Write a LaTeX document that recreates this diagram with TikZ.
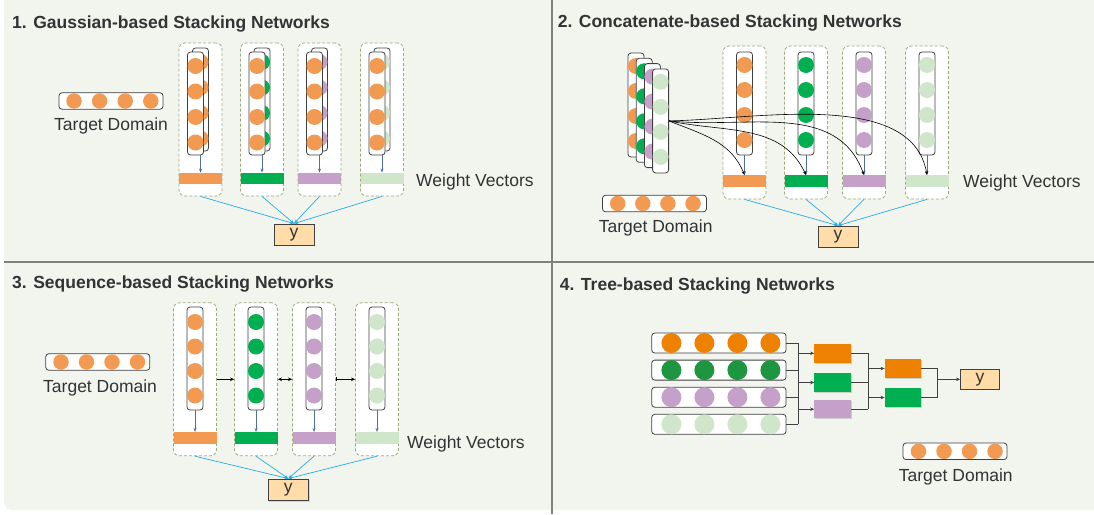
\documentclass[tikz,border=0pt]{standalone}
\usepackage{fontspec}
\setmainfont{Liberation Sans}
\usetikzlibrary{arrows.meta,shadows}
\definecolor{bgc}{HTML}{F2F4EE}
\definecolor{corg}{HTML}{F29A52}
\definecolor{cgrn}{HTML}{00B050}
\definecolor{cpur}{HTML}{C5A1C9}
\definecolor{clgr}{HTML}{CFE6CB}
\definecolor{torg}{HTML}{EE8100}
\definecolor{tgrn}{HTML}{1E9640}
\definecolor{ybg}{HTML}{FFDCA8}
\definecolor{blu}{HTML}{29ABE2}
\definecolor{stl}{HTML}{4F6FA0}
\definecolor{dashc}{HTML}{9CAA7A}
\definecolor{divc}{HTML}{808080}
\definecolor{txtc}{HTML}{333333}
\definecolor{edgec}{HTML}{404040}
\begin{document}
\begin{tikzpicture}[x=1pt,y=-1pt,
  ttl/.style={font=\fontsize{17.5}{21}\selectfont\bfseries, text=txtc, anchor=base west, inner sep=0},
  lbl/.style={font=\fontsize{17.5}{21}\selectfont, text=txtc, anchor=base west, inner sep=0},
  dbox/.style={draw=dashc, dash pattern=on 3pt off 2pt, rounded corners=6, fill=white, line width=0.8, minimum width=43, minimum height=153, inner sep=0},
  colbox/.style={draw=edgec, rounded corners=3, fill=white, line width=0.8, minimum width=16, minimum height=103, inner sep=0},
  dot/.style={circle, draw=none, minimum size=15.5, inner sep=0},
  wbar/.style={draw=none, minimum width=43, minimum height=11.5, inner sep=0},
  ybox/.style={draw=edgec, fill=ybg, line width=0.8, inner sep=0, font=\fontsize{17.5}{21}\selectfont, text=txtc, drop shadow={shadow xshift=1pt, shadow yshift=-1pt, opacity=0.25}},
  tdbox/.style={draw=edgec, rounded corners=3, fill=white, line width=0.8, minimum width=104, minimum height=16.5, inner sep=0},
  smarr/.style={stl, line width=0.6, -{Stealth[length=4pt,width=3pt]}},
  bline/.style={blu, line width=0.7, -{Stealth[length=4pt,width=3pt]}},
  carr/.style={black, line width=0.6, -{Stealth[length=4pt,width=3pt]}},
  darr/.style={black, line width=0.7},
  rowbox/.style={draw=edgec, rounded corners=3, fill=white, line width=0.8, minimum width=134.3, minimum height=20, inner sep=0},
  tdot/.style={circle, draw=none, minimum size=20, inner sep=0},
  tbox/.style={draw=none, minimum width=36.8, minimum height=18.5, inner sep=0, drop shadow={shadow xshift=1pt, shadow yshift=-1pt, opacity=0.3}},
  tline/.style={edgec, line width=0.8},
  tarr/.style={edgec, line width=0.8, -{Stealth[length=4pt,width=3.5pt]}}
]
\useasboundingbox (0,0) rectangle (1094,514);
\fill[white] (0,0) rectangle (1094,514);
\fill[bgc, rounded corners=8] (4,-10) rectangle (1110,510);
\draw[divc, line width=1.5] (552,0) -- (552,514);
\draw[divc, line width=1.5] (4,262) -- (1094,262);

% ---------------- Panel 1 ----------------
\node[ttl] (t1) at (12,28.3) {1. Gaussian-based Stacking Networks};
\node[tdbox] (td1) at (111,101) {};
\foreach \m in {0,...,3} \node[dot] (td1-\m) [fill=corg] at (74+25.6*\m,101) {};
\node[lbl] (tdl1) at (54,130) {Target Domain};
\node[ybox, minimum width=40, minimum height=21] (y1) at (294,234.5) {y};
\foreach \i/\cx/\cc in {1/200.5/corg, 2/262/cgrn, 3/319.5/cpur, 4/382/clgr} {
  \node[dbox] (g\i) at (\cx,119.5) {};
  \node[colbox] (gb\i) at (\cx,99.5) {};
  \foreach \k in {0,...,3} \node[dot, minimum size=16, fill=\cc] (gb\i-\k) at (\cx,62+25.5*\k) {};
  \node[colbox] (gf\i) at (\cx-5,103.5) {};
  \foreach \k in {0,...,3} \node[dot, minimum size=16, fill=corg] (gf\i-\k) at (\cx-5,66+25.5*\k) {};
  \node[wbar, fill=\cc] (gw\i) at (\cx,178.5) {};
  \draw[smarr] (gf\i.south -| gw\i.north) -- (gw\i.north);
  \draw[bline] (g\i.south) -- (y1.north);
}
\node[lbl] (wv1) at (416,186) {Weight Vectors};

% ---------------- Panel 2 ----------------
\node[ttl] (t2) at (557.6,27.3) {2. Concatenate-based Stacking Networks};
\foreach \j/\cc in {0/corg,1/cgrn,2/cpur,3/clgr} {
  \node[colbox, minimum height=104] (cc\j) at (636+8.2*\j,105+5.3*\j) {};
  \foreach \k in {0,...,3} \node[dot, minimum size=16, fill=\cc] (cc\j-\k) at (636+8.2*\j,66+5.3*\j+25*\k) {};
}
\node[tdbox] (td2) at (654.5,203.5) {};
\foreach \m in {0,...,3} \node[dot] (td2-\m) [fill=corg] at (617.7+25.1*\m,203.5) {};
\node[lbl] (tdl2) at (598.6,232) {Target Domain};
\node[ybox, minimum width=40, minimum height=21] (y2) at (838,236.5) {y};
\foreach \i/\cx/\cc in {1/744.5/corg, 2/806/cgrn, 3/864/cpur, 4/927/clgr} {
  \node[dbox] (c\i) at (\cx,122.5) {};
  \node[colbox] (cf\i) at (\cx,103.5) {};
  \foreach \k in {0,...,3} \node[dot, minimum size=16, fill=\cc] (cf\i-\k) at (\cx,65+25*\k) {};
  \node[wbar, fill=\cc] (cw\i) at (\cx,181) {};
  \draw[smarr] (cf\i.south) -- (cw\i.north);
  \draw[bline] (c\i.south) -- (y2.north);
}
\draw[carr] (cc3.east) to[out=-22,in=112] (cw1.north);
\draw[carr] (cc3.east) to[out=-12,in=115] (cw2.north);
\draw[carr] (cc3.east) to[out=-6,in=110] (cw3.north);
\draw[carr] (cc3.east) to[out=1,in=100,looseness=0.85] (cw4.north);
\node[lbl] (wv2) at (963,187.3) {Weight Vectors};

% ---------------- Panel 3 ----------------
\node[ttl] (t3) at (12,288.3) {3. Sequence-based Stacking Networks};
\node[tdbox] (td3) at (97.8,362) {};
\foreach \m in {0,...,3} \node[dot] (td3-\m) [fill=corg] at (61+25.5*\m,362) {};
\node[lbl] (tdl3) at (43,392.7) {Target Domain};
\node[ybox, minimum width=40.7, minimum height=21.7] (y3) at (288.3,489.8) {y};
\foreach \i/\cx/\cc in {1/195/corg, 2/256/cgrn, 3/314/cpur, 4/377/clgr} {
  \node[dbox] (s\i) at (\cx,379.3) {};
  \node[colbox] (sf\i) at (\cx,358.5) {};
  \foreach \k in {0,...,3} \node[dot, minimum size=16, fill=\cc] (sf\i-\k) at (\cx,322+24.5*\k) {};
  \node[wbar, fill=\cc, minimum height=11.7] (sw\i) at (\cx,438) {};
  \draw[smarr] (sf\i.south) -- (sw\i.north);
  \draw[bline] (s\i.south) -- (y3.north);
}
\draw[darr, -{Stealth[length=4pt,width=3.5pt]}] (s1.east) -- (s2.west);
\draw[darr, {Stealth[length=4pt,width=3.5pt]}-{Stealth[length=4pt,width=3.5pt]}] (s2.east) -- (s3.west);
\draw[darr, {Bar[width=4pt]}-{Stealth[length=4pt,width=3.5pt]}] (s3.east) -- (s4.west);
\node[lbl] (wv3) at (407,448.3) {Weight Vectors};

% ---------------- Panel 4 ----------------
\node[ttl] (t4) at (559.7,290.7) {4. Tree-based Stacking Networks};
\foreach \k/\cc in {0/torg,1/tgrn,2/cpur,3/clgr} {
  \node[rowbox] (r\k) at (718.9,343+27.1*\k) {};
  \foreach \m in {0,...,3} \node[tdot, fill=\cc] (r\k-\m) at (671.4+33*\m,343+27.1*\k) {};
  \coordinate (rb\k) at (798,343+27.1*\k);
  \draw[tline] (r\k.east) -- (rb\k);
}
\draw[tline] (rb0) -- (rb3);
\node[tbox, fill=torg] (l1) at (832.8,353.3) {};
\node[tbox, fill=cgrn] (l2) at (832.8,382.5) {};
\node[tbox, fill=cpur] (l3) at (832.8,409.2) {};
\foreach \i in {1,2,3} \draw[tarr] (rb0 |- l\i.west) -- (l\i.west);
\coordinate (lb1) at (868.2,353.3);
\coordinate (lb3) at (868.2,409.2);
\foreach \i in {1,2,3} \draw[tline] (l\i.east) -- (lb1 |- l\i.east);
\draw[tline] (lb1) -- (lb3);
\node[tbox, fill=torg, minimum width=35.8] (m1) at (902.7,368.5) {};
\node[tbox, fill=cgrn, minimum width=35.8] (m2) at (902.7,397.5) {};
\foreach \i in {1,2} \draw[tarr] (lb1 |- m\i.west) -- (m\i.west);
\coordinate (mb1) at (936.9,368.5);
\coordinate (mb2) at (936.9,397.5);
\draw[tline] (m1.east) -- (mb1) -- (mb2) -- (m2.east);
\node[ybox, minimum width=38.8, minimum height=20] (y4) at (979.9,379.3) {y};
\draw[tarr] (mb1 |- y4.west) -- (y4.west);
\node[tdbox] (td4) at (955,451.3) {};
\foreach \m in {0,...,3} \node[dot] (td4-\m) [fill=corg] at (918.5+25.5*\m,451.3) {};
\node[lbl] (tdl4) at (898.7,481.7) {Target Domain};
\end{tikzpicture}
\end{document}
